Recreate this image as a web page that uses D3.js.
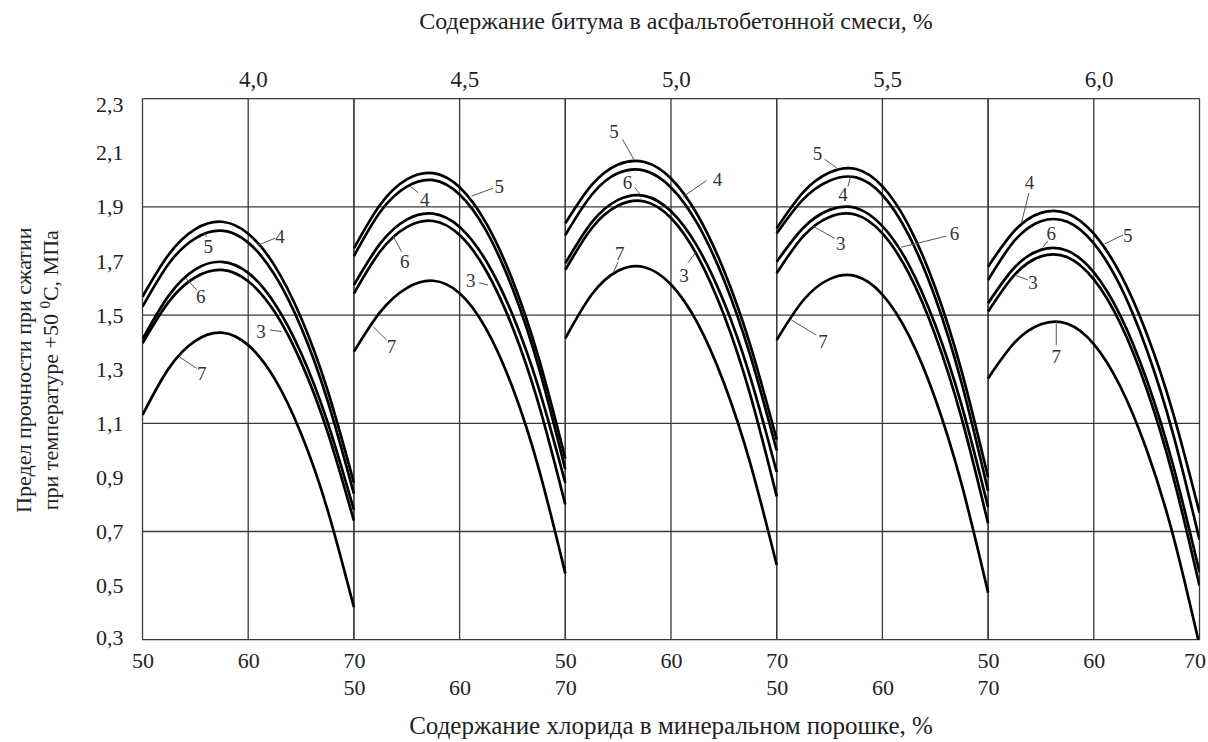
<!DOCTYPE html>
<html><head><meta charset="utf-8">
<script src="https://cdn.jsdelivr.net/npm/d3@7"></script>
<style>body{margin:0;background:#fff}svg{display:block}</style>
</head><body>
<svg id="c" width="1208" height="742"></svg>
<script>
// ---- data ----
const bitumenLabels = ["4,0", "4,5", "5,0", "5,5", "6,0"];
const chlorideX = [50, 52.5, 55, 57.5, 60, 62.5, 65, 67.5, 70];
const yTicks = [0.3, 0.5, 0.7, 0.9, 1.1, 1.3, 1.5, 1.7, 1.9, 2.1, 2.3];
const yGrid = [0.3, 0.7, 1.1, 1.5, 1.9, 2.3];
const xTicks = [50, 60, 70];

// bitumen 4,0 %
const b40_c3 = [1.396, 1.55, 1.64, 1.667, 1.625, 1.512, 1.326, 1.069, 0.74];
const b40_c4 = [1.568, 1.725, 1.818, 1.845, 1.801, 1.683, 1.49, 1.223, 0.88];
const b40_c5 = [1.531, 1.691, 1.784, 1.812, 1.768, 1.649, 1.455, 1.185, 0.84];
const b40_c6 = [1.411, 1.573, 1.669, 1.697, 1.656, 1.543, 1.36, 1.105, 0.78];
const b40_c7 = [1.131, 1.304, 1.405, 1.435, 1.389, 1.265, 1.062, 0.781, 0.42];
// bitumen 4,5 %
const b45_c3 = [1.58, 1.736, 1.825, 1.848, 1.796, 1.665, 1.456, 1.168, 0.80];
const b45_c4 = [1.718, 1.882, 1.975, 1.999, 1.946, 1.813, 1.599, 1.305, 0.93];
const b45_c5 = [1.747, 1.909, 2.002, 2.025, 1.973, 1.841, 1.63, 1.339, 0.97];
const b45_c6 = [1.611, 1.765, 1.853, 1.875, 1.826, 1.701, 1.502, 1.228, 0.88];
const b45_c7 = [1.365, 1.512, 1.60, 1.627, 1.581, 1.45, 1.233, 0.931, 0.545];
// bitumen 5,0 %
const b50_c3 = [1.667, 1.821, 1.905, 1.92, 1.859, 1.719, 1.501, 1.205, 0.83];
const b50_c4 = [1.796, 1.945, 2.025, 2.034, 1.972, 1.838, 1.631, 1.351, 1.0];
const b50_c5 = [1.839, 1.981, 2.057, 2.066, 2.005, 1.871, 1.666, 1.389, 1.04];
const b50_c6 = [1.691, 1.843, 1.926, 1.941, 1.884, 1.753, 1.549, 1.271, 0.92];
const b50_c7 = [1.414, 1.576, 1.664, 1.677, 1.613, 1.471, 1.25, 0.952, 0.576];
// bitumen 5,5 %
const b55_c3 = [1.655, 1.791, 1.863, 1.871, 1.802, 1.654, 1.426, 1.118, 0.73];
const b55_c4 = [1.802, 1.928, 1.997, 2.009, 1.944, 1.795, 1.564, 1.248, 0.85];
const b55_c5 = [1.821, 1.954, 2.027, 2.04, 1.976, 1.83, 1.602, 1.292, 0.9];
const b55_c6 = [1.697, 1.822, 1.889, 1.896, 1.829, 1.686, 1.464, 1.166, 0.79];
const b55_c7 = [1.408, 1.554, 1.633, 1.644, 1.576, 1.425, 1.191, 0.874, 0.474];
// bitumen 6,0 %
const b60_c3 = [1.513, 1.649, 1.717, 1.714, 1.632, 1.47, 1.227, 0.904, 0.50];
const b60_c4 = [1.679, 1.812, 1.878, 1.876, 1.801, 1.653, 1.432, 1.138, 0.77];
const b60_c5 = [1.63, 1.775, 1.847, 1.845, 1.765, 1.608, 1.373, 1.061, 0.67];
const b60_c6 = [1.544, 1.676, 1.741, 1.738, 1.658, 1.499, 1.261, 0.945, 0.55];
const b60_c7 = [1.266, 1.398, 1.466, 1.468, 1.393, 1.237, 1.002, 0.686, 0.28];

// curve number annotations (panel, text, text pos, leader from -> to), in data units
const annPanel = [0,0,0,0,0, 1,1,1,1,1, 2,2,2,2,2, 3,3,3,3,3, 4,4,4,4,4];
const annText  = ["5","4","6","3","7", "4","5","6","3","7", "5","4","6","3","7", "5","4","3","6","7", "4","6","5","3","7"];
const annX  = [56.22,63.0,55.5,61.2,55.6, 56.71,63.74,54.82,61.06,53.56, 54.61,64.39,55.88,61.23,55.15, 53.85,56.27,56.05,66.83,54.38, 53.92,55.98,63.22,54.24,56.45];
const annV  = [1.753,1.792,1.568,1.439,1.285, 1.928,1.977,1.70,1.63,1.383, 2.178,2.003,1.992,1.648,1.728, 2.098,1.947,1.765,1.802,1.402, 1.99,1.802,1.796,1.62,1.346];
const leadX1 = [56.07,62.53,55.13,62.06,55.13, 56.08,63.17,54.51,61.85,53.09, 55.41,63.35,56.57,61.61,54.99, 54.54,56.74,55.48,66.05,53.75, 53.86,55.65,62.75,53.77,56.45];
const leadV1 = [1.788,1.784,1.593,1.445,1.303, 1.953,1.969,1.734,1.620,1.408, 2.15,1.997,1.972,1.694,1.695, 2.076,1.975,1.784,1.792,1.426, 1.952,1.774,1.796,1.63,1.389];
const leadX2 = [55.82,60.95,54.11,63.16,53.55, 55.3,61.13,53.72,62.7,51.83, 56.48,61.14,57.04,62.34,54.52, 55.7,56.97,53.43,61.79,51.39, 53.14,55.18,61.02,52.51,56.45];
const leadV2 = [1.808,1.759,1.636,1.439,1.344, 1.977,1.940,1.792,1.611,1.457, 2.076,1.938,1.948,1.731,1.655, 2.043,2.009,1.829,1.751,1.482, 1.839,1.751,1.763,1.648,1.476];

// ---- build ----
const panels = [
  [b40_c3,b40_c4,b40_c5,b40_c6,b40_c7],
  [b45_c3,b45_c4,b45_c5,b45_c6,b45_c7],
  [b50_c3,b50_c4,b50_c5,b50_c6,b50_c7],
  [b55_c3,b55_c4,b55_c5,b55_c6,b55_c7],
  [b60_c3,b60_c4,b60_c5,b60_c6,b60_c7]
];

const svg = d3.select("#c");
const L = 142.5, R = 1199.5, T = 98.7, B = 639.7;
const pw = (R - L) / 5;
const font = "'Liberation Serif','Times New Roman',serif";
const ink = "#222";
const gridCol = "#3a3a3a";

const y = d3.scaleLinear().domain([0.3, 2.3]).range([B, T]);
const xs = d3.range(5).map(p => d3.scaleLinear().domain([50, 70]).range([L + p*pw, L + (p+1)*pw]));

svg.append("defs").append("clipPath").attr("id", "plot")
  .append("rect").attr("x", L).attr("y", T).attr("width", R - L).attr("height", B - T);

// horizontal grid
svg.append("g").selectAll("line").data(yGrid).join("line")
  .attr("x1", L).attr("x2", R).attr("y1", d => y(d)).attr("y2", d => y(d))
  .attr("stroke", gridCol).attr("stroke-width", 1.3);

// vertical grid
xs.forEach(x => {
  svg.append("g").selectAll("line").data(xTicks).join("line")
    .attr("x1", d => x(d)).attr("x2", d => x(d)).attr("y1", T).attr("y2", B)
    .attr("stroke", gridCol).attr("stroke-width", 1.3);
});

// y axis labels
const yAxis = d3.axisLeft(y).tickValues(yTicks).tickSize(0).tickPadding(19)
  .tickFormat(d => d.toFixed(1).replace(".", ","));
const ya = svg.append("g").attr("transform", `translate(${L},0)`).call(yAxis);
ya.select(".domain").remove();
ya.selectAll("text").attr("font-family", font).attr("font-size", 22).attr("fill", ink)
  .attr("dy", d => d === 2.3 ? "0.59em" : (d === 0.3 ? "0.22em" : "0.32em"));

// bottom axes: panels 1,3,5 on row 1, panels 2,4 on row 2
xs.forEach((x, p) => {
  const row = (p % 2 === 0) ? 0 : 1;
  const ax = d3.axisBottom(x).tickValues(xTicks).tickSize(0).tickPadding(0).tickFormat(d3.format("d"));
  const g = svg.append("g").attr("transform", `translate(0,${B + 13 + row*27})`).call(ax);
  g.select(".domain").remove();
  g.selectAll("text").attr("font-family", font).attr("font-size", 22).attr("fill", ink)
    .attr("dx", d => (p === 4 && d === 70) ? -5 : 0);
});

// top labels (bitumen)
svg.append("g").selectAll("text").data(bitumenLabels).join("text")
  .attr("x", (d, i) => xs[i](60.5)).attr("y", 87)
  .attr("text-anchor", "middle").attr("font-family", font).attr("font-size", 23).attr("fill", ink)
  .text(d => d);

// curves
const line = d3.line().x(d => d[0]).y(d => d[1]).curve(d3.curveNatural);
const cg = svg.append("g").attr("clip-path", "url(#plot)");
panels.forEach((series, p) => {
  series.forEach(vals => {
    const pts = chlorideX.map((cx, i) => [xs[p](cx), y(vals[i])]);
    cg.append("path").attr("d", line(pts)).attr("fill", "none")
      .attr("stroke", "#000").attr("stroke-width", 2.7);
  });
});

// annotations
const annG = svg.append("g");
annText.forEach((t, i) => {
  const x = xs[annPanel[i]];
  annG.append("line")
    .attr("x1", x(leadX1[i])).attr("y1", y(leadV1[i]))
    .attr("x2", x(leadX2[i])).attr("y2", y(leadV2[i]))
    .attr("stroke", "#555").attr("stroke-width", 1);
  annG.append("text").attr("x", x(annX[i])).attr("y", y(annV[i])).attr("dy", "0.35em")
    .attr("text-anchor", "middle").attr("font-family", font).attr("font-size", 19).attr("fill", "#333")
    .text(t);
});

// titles
svg.append("text").attr("x", 676).attr("y", 29).attr("text-anchor", "middle")
  .attr("font-family", font).attr("font-size", 24).attr("fill", ink)
  .text("Содержание битума в асфальтобетонной смеси, %");
svg.append("text").attr("x", 671).attr("y", 734).attr("text-anchor", "middle")
  .attr("font-family", font).attr("font-size", 25).attr("fill", ink)
  .text("Содержание хлорида в минеральном порошке, %");

// rotated y title, centred explicitly on the plot's vertical middle
const yMid = (T + B) / 2 + 1;
const yt = svg.append("text").attr("transform", `translate(31,${yMid}) rotate(-90)`)
  .attr("font-family", font).attr("font-size", 22).attr("fill", ink)
  .text("Предел прочности при сжатии");
yt.attr("x", -yt.node().getComputedTextLength() / 2);
const yt2 = svg.append("text").attr("transform", `translate(58,${yMid}) rotate(-90)`)
  .attr("font-family", font).attr("font-size", 22).attr("fill", ink);
yt2.append("tspan").text("при температуре +50 ");
yt2.append("tspan").attr("font-size", 15).attr("dy", -8).text("0");
yt2.append("tspan").attr("dy", 8).text("С, МПа");
yt2.attr("x", -yt2.node().getComputedTextLength() / 2);
</script>
</body></html>
